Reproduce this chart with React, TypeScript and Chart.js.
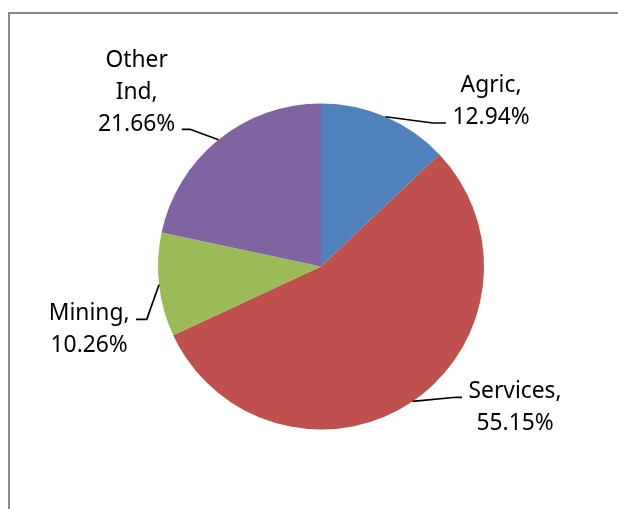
import React, { useEffect, useRef } from "react";
import { Chart, registerables } from "chart.js";

Chart.register(...registerables);

const categories = ["Agric", "Services", "Mining", "Other Ind"];
const shares = [12.94, 55.15, 10.26, 21.66];
const labelLines = [["Agric,", "12.94%"], ["Services,", "55.15%"], ["Mining,", "10.26%"], ["Other", "Ind,", "21.66%"]];
const colors = ["#4F81BD", "#C0504D", "#9BBB59", "#8064A2"];

// leader line styling: elbow offset from slice edge, then horizontal tail
const leaderStyle = [
  { ex: 47.5, ey: 6.2, tail: 13 },
  { ex: 43.5, ey: -4.1, tail: 6 },
  { ex: -12.3, ey: 34.6, tail: -10.7 },
  { ex: -28.4, ey: -10.5, tail: -8.3 },
];

const FONT = '22.8px "Noto Sans"';
const LINE_H = 32;

const labelPlugin = {
  id: "outerLabels",
  afterDatasetsDraw(chart: any) {
    const ctx = chart.ctx as CanvasRenderingContext2D;
    const meta = chart.getDatasetMeta(0);
    ctx.save();
    ctx.font = FONT;
    ctx.fillStyle = "#000";
    ctx.strokeStyle = "#000";
    ctx.lineWidth = 1.7;
    meta.data.forEach((arc: any, i: number) => {
      const { x, y, outerRadius, startAngle, endAngle } = arc.getProps(
        ["x", "y", "outerRadius", "startAngle", "endAngle"],
        true
      );
      const mid = (startAngle + endAngle) / 2;
      const px = x + outerRadius * Math.cos(mid);
      const py = y + outerRadius * Math.sin(mid);
      const st = leaderStyle[i];
      const bx = px + st.ex;
      const by = py + st.ey;
      const endX = bx + st.tail;
      ctx.beginPath();
      ctx.moveTo(px, py);
      ctx.lineTo(bx, by);
      ctx.lineTo(endX, by);
      ctx.stroke();

      const lines = labelLines[i];
      const maxW = Math.max(...lines.map((l) => ctx.measureText(l).width));
      const right = st.tail > 0;
      const cx = right ? endX + 6.5 + maxW / 2 : endX - 6.5 - maxW / 2;
      const above = py < y;
      const firstBaseline = above ? by + 1.5 - (lines.length - 1) * LINE_H : by + 0.5;
      ctx.textAlign = "center";
      ctx.textBaseline = "alphabetic";
      lines.forEach((l, k) => ctx.fillText(l, cx, firstBaseline + k * LINE_H));
    });
    ctx.restore();
  },
};

export default function App() {
  const ref = useRef<HTMLCanvasElement | null>(null);
  useEffect(() => {
    if (!ref.current) return;
    const chart = new Chart(ref.current, {
      type: "pie",
      data: {
        labels: categories,
        datasets: [{ data: shares, backgroundColor: colors, borderWidth: 0 }],
      },
      options: {
        animation: false,
        responsive: false,
        layout: { padding: { left: 148, right: 126, top: 89.5, bottom: 79.5 } },
        plugins: { legend: { display: false }, tooltip: { enabled: false } },
      },
      plugins: [labelPlugin],
    });
    return () => chart.destroy();
  }, []);
  return (
    <div
      style={{
        position: "fixed",
        left: 8,
        top: 12,
        width: 640,
        height: 520,
        border: "2px solid #8a8a8a",
        background: "#fff",
      }}
    >
      <canvas ref={ref} width={600} height={495} style={{ display: "block", width: 600, height: 495 }} />
    </div>
  );
}
